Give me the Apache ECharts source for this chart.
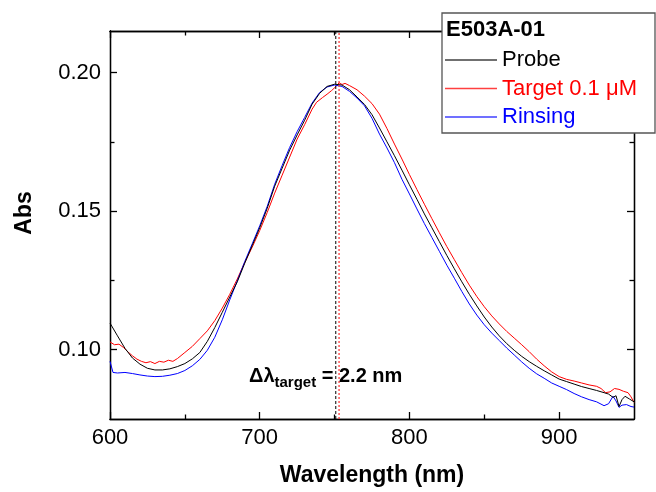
<!DOCTYPE html>
<html>
<head>
<meta charset="utf-8">
<script src="https://cdn.jsdelivr.net/npm/echarts@6/dist/echarts.min.js"></script>
<style>html,body{margin:0;padding:0;background:#fff}#c{width:656px;height:492px}</style>
</head>
<body>
<div id="c"></div>
<script>
// ---- data ----
const seriesNames = ['Probe', 'Target 0.1 μM', 'Rinsing'];
const legendTitle = 'E503A-01';

const probeWl  = [600,605,610,615,620,625,630,635,640,645,650,655,660,665,670,675,680,685,690,695,700,705,710,715,720,725,730,735,740,745,750,755,760,765,770,775,780,785,790,795,800,805,810,815,820,825,830,835,840,845,850,855,860,865,870,875,880,885,890,895,900,905,910,915,920,925,930,933,936,938,940,942,944,947,950];
const probeAbs = [0.1096,0.1050,0.1005,0.0970,0.0948,0.0933,0.0927,0.0927,0.0931,0.0939,0.0950,0.0967,0.0990,0.1030,0.1080,0.1135,0.1190,0.1245,0.1312,0.1376,0.1440,0.1510,0.1590,0.1655,0.1720,0.1775,0.1828,0.1886,0.1925,0.1950,0.1958,0.1955,0.1938,0.1912,0.1885,0.1848,0.1800,0.1750,0.1700,0.1648,0.1595,0.1543,0.1490,0.1440,0.1390,0.1340,0.1292,0.1245,0.1200,0.1158,0.1118,0.1082,0.1050,0.1022,0.0998,0.0976,0.0957,0.0940,0.0924,0.0909,0.0894,0.0885,0.0876,0.0867,0.0860,0.0853,0.0845,0.0840,0.0828,0.0834,0.0795,0.0820,0.0832,0.0822,0.0812];

const targetWl  = [600,603,606,609,612,615,618,621,624,627,630,633,636,639,642,645,650,655,660,665,670,675,680,685,690,695,700,705,710,715,720,725,730,735,738,742,745,748,751,753,755,757,760,765,770,775,780,785,790,795,800,805,810,815,820,825,830,835,840,845,850,855,860,865,870,875,880,885,890,895,900,905,910,915,920,925,928,931,934,937,940,943,946,948,950];
const targetAbs = [0.1028,0.1018,0.1020,0.1008,0.0992,0.0978,0.0966,0.0958,0.0953,0.0957,0.0950,0.0958,0.0955,0.0962,0.0958,0.0968,0.0990,0.1012,0.1040,0.1068,0.1105,0.1150,0.1200,0.1255,0.1315,0.1370,0.1430,0.1495,0.1565,0.1630,0.1695,0.1760,0.1812,0.1868,0.1893,0.1910,0.1922,0.1935,0.1950,0.1963,0.1957,0.1961,0.1953,0.1938,0.1915,0.1888,0.1850,0.1798,0.1742,0.1688,0.1632,0.1578,0.1525,0.1473,0.1422,0.1372,0.1325,0.1278,0.1233,0.1192,0.1155,0.1122,0.1093,0.1066,0.1042,0.1018,0.0993,0.0966,0.0942,0.0920,0.0903,0.0893,0.0887,0.0880,0.0873,0.0868,0.0860,0.0845,0.0848,0.0860,0.0857,0.0850,0.0845,0.0830,0.0810];

const rinseWl  = [600,602,605,610,615,620,625,630,635,640,645,650,655,660,665,670,675,680,685,690,695,700,705,710,715,720,725,730,735,740,745,750,755,760,765,770,775,780,785,790,795,800,805,810,815,820,825,830,835,840,845,850,855,860,865,870,875,880,885,890,895,900,905,910,915,920,925,930,933,936,938,940,942,945,948,950];
const rinseAbs = [0.0958,0.0918,0.0916,0.0918,0.0914,0.0909,0.0905,0.0903,0.0904,0.0908,0.0914,0.0925,0.0942,0.0965,0.0998,0.1045,0.1108,0.1180,0.1248,0.1318,0.1382,0.1447,0.1517,0.1597,0.1665,0.1730,0.1787,0.1838,0.1890,0.1928,0.1948,0.1955,0.1950,0.1932,0.1908,0.1880,0.1835,0.1778,0.1728,0.1675,0.1615,0.1562,0.1508,0.1455,0.1405,0.1355,0.1305,0.1258,0.1210,0.1165,0.1125,0.1090,0.1060,0.1033,0.1006,0.0981,0.0956,0.0933,0.0913,0.0897,0.0880,0.0868,0.0856,0.0842,0.0830,0.0820,0.0812,0.0798,0.0805,0.0832,0.0815,0.0792,0.0800,0.0802,0.0795,0.0793];

const peakProbe = 750.8;   // dashed marker, probe peak
const peakTarget = 753.0;  // dashed marker, target peak
const shiftText = '2.2';

const xMajorTicks = [600, 700, 800, 900];
const xMinorTicks = [650, 750, 850];
const yMajorTicks = [0.10, 0.15, 0.20];
const yMinorTicks = [0.125, 0.175];
const yMin = 0.075, yMax = 0.215;

// ---- chart ----
const FONT = 'Liberation Sans, Arial, sans-serif';
const pair = (xs, ys) => xs.map((x, i) => [x, ys[i]]);
const axisLine = { show: true, lineStyle: { color: '#000', width: 1.3 } };

function xAx(pos, ticks, len, labels) {
  return {
    type: 'value', min: 600, max: 950, position: pos,
    axisLine: axisLine,
    axisTick: { show: true, inside: true, length: len, customValues: ticks, lineStyle: { color: '#000', width: 1.3 } },
    axisLabel: labels ? { show: true, customValues: ticks, fontSize: 22, fontFamily: FONT, color: '#000', margin: 8 } : { show: false },
    splitLine: { show: false }
  };
}
function yAx(pos, ticks, len, labels) {
  return {
    type: 'value', min: yMin, max: yMax, position: pos,
    axisLine: axisLine,
    axisTick: { show: true, inside: true, length: len, customValues: ticks, lineStyle: { color: '#000', width: 1.3 } },
    axisLabel: labels ? { show: true, customValues: ticks, fontSize: 22, fontFamily: FONT, color: '#000', margin: 9,
      formatter: v => v.toFixed(2) } : { show: false },
    splitLine: { show: false }
  };
}

const xMain = xAx('bottom', xMajorTicks, 7, true);
xMain.name = 'Wavelength (nm)';
xMain.nameLocation = 'middle';
xMain.nameGap = 45;
xMain.nameTextStyle = { fontSize: 23, fontWeight: 'bold', fontFamily: FONT, color: '#000' };
const yMain = yAx('left', yMajorTicks, 7, true);
yMain.name = 'Abs';
yMain.nameLocation = 'middle';
yMain.nameGap = 74;
yMain.nameTextStyle = { fontSize: 23, fontWeight: 'bold', fontFamily: FONT, color: '#000', padding: [0, 0, 0, 24] };

const colors = ['#000000', '#ff0000', '#0000ff'];
const datasets = [pair(probeWl, probeAbs), pair(targetWl, targetAbs), pair(rinseWl, rinseAbs)];

const series = seriesNames.map((n, i) => ({
  name: n, type: 'line', data: datasets[i], symbol: 'none', showSymbol: false,
  xAxisIndex: 0, yAxisIndex: 0,
  lineStyle: { color: colors[i], width: 1 }, itemStyle: { color: colors[i] },
  emphasis: { disabled: true }, z: 3 + (i === 0 ? 1 : 0)
}));
// vertical dashed peak markers, drawn as two-point line series through the axes
series.push({
  name: 'probePeak', type: 'line', symbol: 'none', silent: true, z: 5,
  data: [[peakProbe, yMin], [peakProbe, yMax]],
  lineStyle: { color: '#000000', type: [3, 2], width: 1 }, emphasis: { disabled: true }
});
series.push({
  name: 'targetPeak', type: 'line', symbol: 'none', silent: true, z: 5,
  data: [[peakTarget, yMin], [peakTarget, yMax]],
  lineStyle: { color: '#ff3c3c', type: [2, 2], width: 1.3 }, emphasis: { disabled: true }
});

const chart = echarts.init(document.getElementById('c'), null, { renderer: 'canvas' });
chart.setOption({
  animation: false,
  backgroundColor: '#fff',
  grid: { left: 110, right: 22, top: 31, bottom: 73, containLabel: false },
  xAxis: [xMain, xAx('bottom', xMinorTicks, 4.5, false), xAx('top', xMajorTicks, 7, false), xAx('top', xMinorTicks, 4.5, false)],
  yAxis: [yMain, yAx('left', yMinorTicks, 4.5, false), yAx('right', yMajorTicks, 7, false), yAx('right', yMinorTicks, 4.5, false)],
  title: {
    text: legendTitle, left: 446, top: 19, padding: 0, z: 30,
    textStyle: { fontSize: 22, fontWeight: 'bold', fontFamily: FONT, color: '#000' }
  },
  legend: {
    orient: 'vertical', left: 445, top: 48, padding: 0, z: 30,
    icon: 'rect', itemWidth: 52, itemHeight: 1.3, itemGap: 4.5, selectedMode: false,
    textStyle: { fontSize: 22, fontFamily: FONT, lineHeight: 24 },
    data: seriesNames.map((n, i) => ({ name: n, textStyle: { color: colors[i] }, itemStyle: { color: colors[i], opacity: 0.75 } }))
  },
  graphic: [
    { type: 'rect', z: 20, shape: { x: 442, y: 13, width: 213, height: 120 },
      style: { fill: '#fff', stroke: '#555', lineWidth: 1.3 } },
    { type: 'text', z: 30, left: 249, top: 366,
      style: {
        text: '{a|Δλ}{b|target}{a| = ' + shiftText + ' nm}',
        rich: {
          a: { fontSize: 20, fontWeight: 'bold', fontFamily: FONT, fill: '#000', lineHeight: 22, verticalAlign: 'top' },
          b: { fontSize: 15, fontWeight: 'bold', fontFamily: FONT, fill: '#000', lineHeight: 15, padding: [9, 0, 0, 0], verticalAlign: 'top' }
        }
      } }
  ],
  series: series
});
</script>
</body>
</html>
